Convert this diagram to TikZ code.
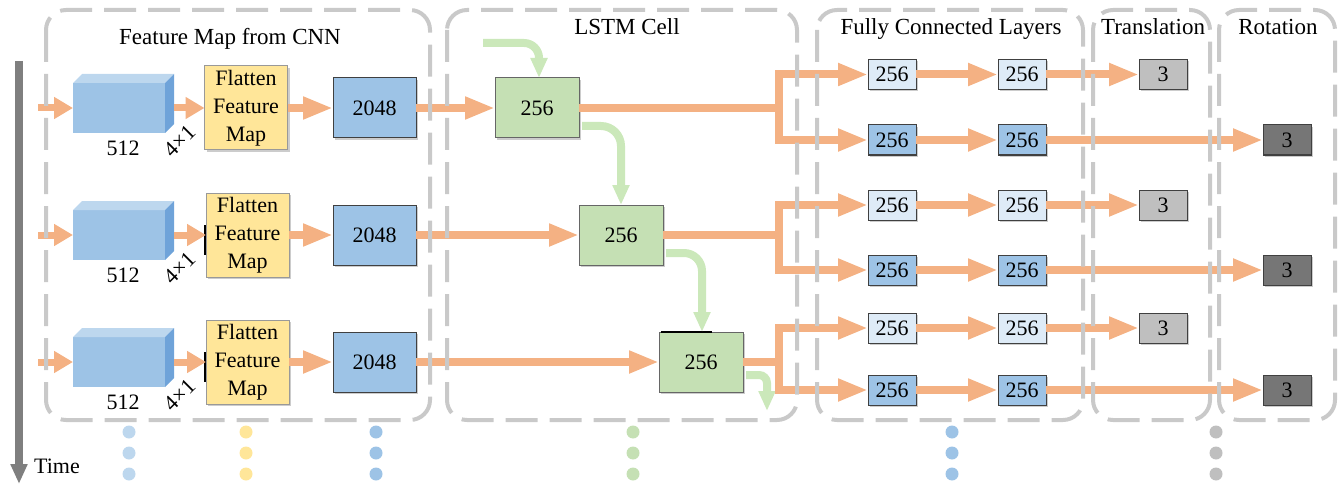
\documentclass[tikz,border=0pt]{standalone}
\usepackage{fontspec}
\setmainfont{Liberation Serif}
\usepackage{tikz}
\usetikzlibrary{arrows.meta,positioning,calc,shadows}

\definecolor{arrorange}{HTML}{F4B183}
\definecolor{cellarrow}{HTML}{CBE8BA}
\definecolor{lstmgreen}{HTML}{C5E0B4}
\definecolor{blockblue}{HTML}{9DC3E6}
\definecolor{paleblue}{HTML}{DEEBF7}
\definecolor{cubetop}{HTML}{BDD7EE}
\definecolor{cubeside}{HTML}{6FA3D9}
\definecolor{flatyellow}{HTML}{FFE699}
\definecolor{transgray}{HTML}{BFBFBF}
\definecolor{rotgray}{HTML}{767676}
\definecolor{framegray}{HTML}{C9C9C9}
\definecolor{timegray}{HTML}{7F7F7F}

\begin{document}
\begin{tikzpicture}[x=1pt, y=-1pt,
    font=\fontsize{22}{28}\selectfont,
    title/.style={anchor=base, font=\fontsize{23}{28}\selectfont},
    box/.style={draw=black!75, line width=1pt, inner sep=0pt, outer sep=0pt,
      drop shadow={shadow xshift=2pt, shadow yshift=-2pt, opacity=0.2, fill=black}},
    cube/.style={fill=blockblue, minimum width=92pt, minimum height=50pt, inner sep=0pt, outer sep=0pt},
    flat/.style={box, draw=black!40, fill=flatyellow, minimum width=83pt, minimum height=84pt, align=center},
    dense/.style={box, fill=blockblue, minimum width=83pt, minimum height=60pt},
    cell/.style={box, draw=black!60, fill=lstmgreen, minimum width=84pt, minimum height=60pt},
    fclight/.style={box, fill=paleblue, minimum width=48pt, minimum height=30pt},
    fcdark/.style={box, fill=blockblue, minimum width=48pt, minimum height=30pt},
    transout/.style={box, fill=transgray, minimum width=48pt, minimum height=30pt},
    rotout/.style={box, fill=rotgray, minimum width=48pt, minimum height=30pt},
    groupframe/.style={draw=framegray, line width=4pt, dash pattern=on 32pt off 12pt, rounded corners=20pt},
    pipe/.style={draw=arrorange, line width=8pt},
    flow/.style={pipe, -{Triangle[length=30pt, width=21pt]}},
    inflow/.style={draw=arrorange, line width=7pt, -{Triangle[length=19pt, width=21pt]}},
    carry/.style={draw=cellarrow, line width=8pt, -{Triangle[length=20pt, width=16pt]}},
  ]
  \useasboundingbox (0,0) rectangle (1341,484);

  % time axis
  \coordinate (t0) at (19,61);
  \coordinate (t1) at (19,484);
  \draw[draw=timegray, line width=8pt, -{Triangle[length=20pt, width=16pt]}] (t0) -- (t1);
  \node (time) at (57,466) {Time};

  % group titles
  \node[title] (tcnn) at (230,45) {Feature Map from CNN};
  \node[title] (tlstm) at (627,35) {LSTM Cell};
  \node[title] (tfc) at (951,35) {Fully Connected Layers};
  \node[title] (ttrans) at (1153,35) {Translation};
  \node[title] (trot) at (1278,35) {Rotation};

  % CNN feature maps (front face is the node, top and side filled after)
  \node[cube] (cnn1) at (119,108) {};
  \node[cube] (cnn2) at (119,235) {};
  \node[cube] (cnn3) at (119,362) {};
  \foreach \c in {cnn1,cnn2,cnn3} {
    \fill[cubetop] (\c.north west) -- ++(9,-9) -- ++(92,0) -- (\c.north east) -- cycle;
    \fill[cubeside] (\c.north east) -- ++(9,-9) -- ++(0,50) -- (\c.south east) -- cycle;
  }
  \node (w1) at (123,148) {512};
  \node (w2) at (123,275) {512};
  \node (w3) at (123,402) {512};
  \node[rotate=45] (d1) at (180,141) {4×1};
  \node[rotate=45] (d2) at (180,268) {4×1};
  \node[rotate=45] (d3) at (180,395) {4×1};

  % flatten, dense and lstm blocks
  \node[flat] (flat1) at (246,108) {Flatten\\Feature\\Map};
  \node[flat] (flat2) at (247.5,235) {Flatten\\Feature\\Map};
  \node[flat] (flat3) at (247.5,362) {Flatten\\Feature\\Map};
  \node[dense] (bin1) at (374.5,108) {2048};
  \node[dense] (bin2) at (374.5,235) {2048};
  \node[dense] (bin3) at (374.5,362) {2048};
  \node[cell] (lstm1) at (537,108) {256};
  \node[cell] (lstm2) at (621,235) {256};
  \node[cell] (lstm3) at (701,362) {256};
  \draw[line width=2pt] ($(flat2.west)+(-1,-10)$) -- ($(flat2.west)+(-1,20)$);
  \draw[line width=2pt] ($(flat3.west)+(-1,-10)$) -- ($(flat3.west)+(-1,20)$);
  \draw[line width=2pt] ($(lstm3.north west)+(2,0)$) -- ($(lstm3.north west)+(53,0)$);

  \coordinate (in1) at (38,108);
  \coordinate (in2) at (38,235);
  \coordinate (in3) at (38,362);
  \draw[inflow] (in1) -- (cnn1);
  \draw[inflow] (in2) -- (cnn2);
  \draw[inflow] (in3) -- (cnn3);
  \draw[inflow] ($(cnn1.east)+(9,0)$) -- (flat1);
  \draw[inflow] ($(cnn2.east)+(9,0)$) -- (flat2);
  \draw[inflow] ($(cnn3.east)+(9,0)$) -- (flat3);
  \draw[flow] (flat1) -- (bin1);
  \draw[flow] (flat2) -- (bin2);
  \draw[flow] (flat3) -- (bin3);
  \draw[flow] (bin1) -- (lstm1);
  \draw[flow] (bin2) -- (lstm2);
  \draw[flow] (bin3) -- (lstm3);

  % hidden state carried down in time
  \coordinate (h0) at (483,43);
  \coordinate (h3) at (767,411);
  \draw[carry, rounded corners=15pt] (h0) -| ($(lstm1.north)+(2,0)$);
  \draw[carry, rounded corners=20pt] ($(lstm1.south east)+(3,-12)$) -| (lstm2.north);
  \draw[carry, rounded corners=18pt] ($(lstm2.south east)+(3,-12)$) -| ($(lstm3.north)+(1,0)$);
  \draw[carry, rounded corners=8pt] ($(lstm3.south east)+(3,-17)$) -| (h3);

  % fully connected heads
  \node[fclight] (fc1a) at (892,74.5) {256};
  \node[fclight, right=82pt of fc1a] (fc2a) {256};
  \node[transout, right=93pt of fc2a] (ta) {3};
  \node[fcdark] (fc1b) at (892,140) {256};
  \node[fcdark, right=82pt of fc1b] (fc2b) {256};
  \node[rotout, right=217pt of fc2b] (rb) {3};

  \node[fclight] (fc1c) at (892,205) {256};
  \node[fclight, right=82pt of fc1c] (fc2c) {256};
  \node[transout, right=93pt of fc2c] (tc) {3};
  \node[fcdark] (fc1d) at (892,270) {256};
  \node[fcdark, right=82pt of fc1d] (fc2d) {256};
  \node[rotout, right=217pt of fc2d] (rd) {3};

  \node[fclight] (fc1e) at (892,328) {256};
  \node[fclight, right=82pt of fc1e] (fc2e) {256};
  \node[transout, right=93pt of fc2e] (te) {3};
  \node[fcdark] (fc1f) at (892,390) {256};
  \node[fcdark, right=82pt of fc1f] (fc2f) {256};
  \node[rotout, right=217pt of fc2f] (rf) {3};

  \coordinate (sp1) at (779,108);
  \coordinate (sp2) at (779,235);
  \coordinate (sp3) at (779,362);
  \draw[pipe] (lstm1) -- (sp1);
  \draw[pipe] (lstm2) -- (sp2);
  \draw[pipe] (lstm3) -- (sp3);
  \draw[flow] (sp1) |- (fc1a);
  \draw[flow] (sp1) |- (fc1b);
  \draw[flow] (sp2) |- (fc1c);
  \draw[flow] (sp2) |- (fc1d);
  \draw[flow] (sp3) |- (fc1e);
  \draw[flow] (sp3) |- (fc1f);
  \draw[flow] (fc1a) -- (fc2a);
  \draw[flow] (fc1b) -- (fc2b);
  \draw[flow] (fc1c) -- (fc2c);
  \draw[flow] (fc1d) -- (fc2d);
  \draw[flow] (fc1e) -- (fc2e);
  \draw[flow] (fc1f) -- (fc2f);
  \draw[flow] (fc2a) -- (ta);
  \draw[flow] (fc2b) -- (rb);
  \draw[flow] (fc2c) -- (tc);
  \draw[flow] (fc2d) -- (rd);
  \draw[flow] (fc2e) -- (te);
  \draw[flow] (fc2f) -- (rf);

  % dashed groups
  \draw[groupframe] (46,10) rectangle (430,420);
  \draw[groupframe] (447,10) rectangle (797,420);
  \draw[groupframe] (817,10) rectangle (1083,420);
  \draw[groupframe] (1093,10) rectangle (1210,420);
  \draw[groupframe] (1219,10) rectangle (1335,420);

  % more steps follow
  \foreach \x/\c in {129/cubetop, 246/flatyellow, 376/blockblue, 633/lstmgreen, 952/blockblue, 1216/transgray}
    \foreach \y in {432,453,474}
      \fill[\c] (\x,\y) circle (6.5pt);
\end{tikzpicture}
\end{document}
